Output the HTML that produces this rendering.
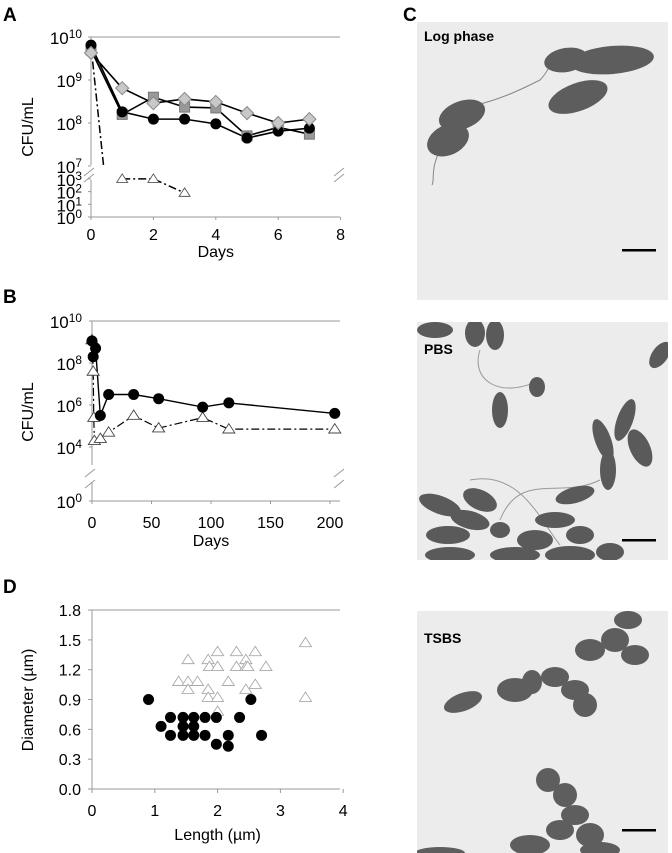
<!DOCTYPE html>
<html><head><meta charset="utf-8"><style>
body{margin:0;background:#fff;width:672px;height:853px;overflow:hidden}
svg{display:block;font-family:"Liberation Sans",Arial,sans-serif}
</style></head><body>
<svg id="fig" width="672" height="853" viewBox="0 0 672 853" xmlns="http://www.w3.org/2000/svg">
<g id="gA"></g>
<g id="gB"></g>
<g id="gD"></g>
<g id="gC">
<text x="403" y="21" font-size="19" font-weight="bold">C</text>
<g>
<rect x="417" y="22" width="251" height="278" fill="#ececec"/>
<path d="M440,150 C430,170 435,180 432,185 M468,107 C500,100 520,90 540,80 C550,70 548,64 556,60" stroke="#888" fill="none" stroke-width="1"/>
<g fill="#5d5d5d">
<ellipse cx="612" cy="60" rx="42" ry="14" transform="rotate(-5 612 60)"/>
<ellipse cx="566" cy="60" rx="22" ry="12" transform="rotate(-10 566 60)"/>
<ellipse cx="578" cy="97" rx="31" ry="14" transform="rotate(-20 578 97)"/>
<ellipse cx="462" cy="115" rx="24" ry="14" transform="rotate(-20 462 115)"/>
<ellipse cx="448" cy="140" rx="22" ry="15" transform="rotate(-25 448 140)"/>
</g>
<text x="424" y="41" font-size="14" font-weight="bold">Log phase</text>
<rect x="622" y="249" width="34" height="2.5" fill="#000"/>
</g>
<g>
<rect x="417" y="322" width="251" height="238" fill="#ececec"/>
<clipPath id="c2"><rect x="417" y="322" width="251" height="238"/></clipPath>
<g clip-path="url(#c2)">
<path d="M480,350 C470,380 500,400 540,380 M600,480 C560,500 520,470 500,520 M470,480 C520,470 540,520 560,545" stroke="#999" fill="none"/>
<g fill="#5a5a5a">
<ellipse cx="435" cy="330" rx="18" ry="8"/><ellipse cx="475" cy="333" rx="10" ry="14"/><ellipse cx="495" cy="335" rx="9" ry="15"/>
<ellipse cx="660" cy="355" rx="8" ry="15" transform="rotate(35 660 355)"/>
<ellipse cx="537" cy="387" rx="8" ry="10"/>
<ellipse cx="500" cy="410" rx="8" ry="18"/>
<ellipse cx="625" cy="420" rx="8" ry="22" transform="rotate(20 625 420)"/>
<ellipse cx="603" cy="440" rx="8" ry="22" transform="rotate(-20 603 440)"/>
<ellipse cx="640" cy="448" rx="10" ry="20" transform="rotate(-25 640 448)"/>
<ellipse cx="608" cy="470" rx="8" ry="20"/>
<ellipse cx="440" cy="505" rx="22" ry="9" transform="rotate(20 440 505)"/>
<ellipse cx="480" cy="500" rx="18" ry="10" transform="rotate(25 480 500)"/>
<ellipse cx="470" cy="520" rx="20" ry="9" transform="rotate(15 470 520)"/>
<ellipse cx="448" cy="535" rx="22" ry="9"/>
<ellipse cx="500" cy="530" rx="10" ry="8"/>
<ellipse cx="575" cy="495" rx="20" ry="8" transform="rotate(-15 575 495)"/>
<ellipse cx="555" cy="520" rx="20" ry="8"/>
<ellipse cx="535" cy="540" rx="18" ry="10"/>
<ellipse cx="580" cy="535" rx="14" ry="9"/>
<ellipse cx="570" cy="555" rx="25" ry="9"/>
<ellipse cx="610" cy="552" rx="14" ry="9"/>
<ellipse cx="515" cy="555" rx="25" ry="8"/>
<ellipse cx="450" cy="555" rx="25" ry="8"/>
</g></g>
<text x="424" y="354" font-size="14" font-weight="bold">PBS</text>
<rect x="622" y="539" width="34" height="2.5" fill="#000"/>
</g>
<g>
<rect x="417" y="611" width="251" height="242" fill="#ececec"/>
<clipPath id="c3"><rect x="417" y="611" width="251" height="242"/></clipPath>
<g clip-path="url(#c3)" fill="#5e5e5e">
<ellipse cx="463" cy="702" rx="20" ry="9" transform="rotate(-20 463 702)"/>
<ellipse cx="515" cy="690" rx="18" ry="12"/><ellipse cx="532" cy="682" rx="10" ry="12"/>
<ellipse cx="555" cy="677" rx="14" ry="10"/><ellipse cx="575" cy="690" rx="14" ry="10"/>
<ellipse cx="585" cy="705" rx="12" ry="12"/>
<ellipse cx="590" cy="650" rx="15" ry="11"/><ellipse cx="615" cy="640" rx="14" ry="12"/>
<ellipse cx="635" cy="655" rx="14" ry="10"/><ellipse cx="628" cy="620" rx="14" ry="9"/>
<ellipse cx="548" cy="780" rx="12" ry="12"/><ellipse cx="565" cy="795" rx="12" ry="12"/>
<ellipse cx="575" cy="815" rx="14" ry="10"/><ellipse cx="560" cy="830" rx="14" ry="10"/>
<ellipse cx="590" cy="835" rx="14" ry="12"/><ellipse cx="530" cy="845" rx="20" ry="10"/>
<ellipse cx="600" cy="850" rx="20" ry="8"/><ellipse cx="440" cy="853" rx="25" ry="6"/>
</g>
<text x="424" y="643" font-size="14" font-weight="bold">TSBS</text>
<rect x="622" y="829" width="34" height="2.5" fill="#000"/>
</g>
</g>
</svg>
<script>
// ---- Panel A data ----
const aDays=[0,1,2,3,4,5,6,7];
const aCircle=[9.81,8.26,8.09,8.09,7.98,7.65,7.81,7.88];
const aSquare=[9.7,8.2,8.6,8.37,8.35,7.7,7.9,7.74];
const aDiamond=[9.63,8.81,8.46,8.56,8.49,8.23,8.0,8.09];
const aTriDays=[1,2,3];
const aTriLog=[3,3,1.9];
const aXTicks=[0,2,4,6,8];
// ---- Panel B data ----
const bCircDays=[0,1,3,7,14,35,56,93,115,204];
const bCircLog=[9.05,8.3,8.7,5.5,6.5,6.5,6.3,5.9,6.1,5.6];
const bTriDays=[0,1,1.5,2,7,14,35,56,93,115,204];
const bTriLog=[9.1,7.6,5.4,4.3,4.4,4.7,5.5,4.9,5.4,4.85,4.85];
const bXTicks=[0,50,100,150,200];
// ---- Panel D data ----
const dCircLen=[0.9,1.1,1.25,1.25,1.45,1.45,1.45,1.62,1.62,1.62,1.8,1.8,1.98,1.98,2.17,2.17,2.35,2.53,2.7];
const dCircDia=[0.9,0.63,0.72,0.54,0.72,0.63,0.54,0.72,0.63,0.54,0.72,0.54,0.72,0.45,0.54,0.43,0.72,0.9,0.54];
const dTriLen=[1.38,1.53,1.53,1.53,1.68,1.85,1.87,1.85,1.85,2.0,2.0,2.0,2.0,2.17,2.3,2.3,2.45,2.45,2.48,2.45,2.6,2.6,2.77,3.4,3.4];
const dTriDia=[1.08,1.08,1.3,1.0,1.08,1.3,1.23,1.0,0.92,1.38,1.23,0.92,0.78,1.08,1.38,1.23,1.3,1.23,1.23,1.0,1.38,1.05,1.23,1.47,0.92];
const dXTicks=[0,1,2,3,4];
const dYTicks=[0,0.3,0.6,0.9,1.2,1.5,1.8];

const NS='http://www.w3.org/2000/svg';
function mk(parent,tag,attrs,txt){const e=document.createElementNS(NS,tag);for(const k in attrs)e.setAttribute(k,attrs[k]);if(txt!==undefined)e.textContent=txt;parent.appendChild(e);return e;}
function circ(g,x,y,r,fill,stroke){return mk(g,'circle',{cx:x,cy:y,r:r,fill:fill,stroke:stroke||'none','stroke-width':1});}
function tri(g,x,y,s,stroke){return mk(g,'polygon',{points:`${x},${y-s} ${x-s*1.1},${y+s*0.7} ${x+s*1.1},${y+s*0.7}`,fill:'#fff',stroke:stroke,'stroke-width':0.9});}
function pw(g,x,y,base,exp,size){const t=mk(g,'text',{x:x,y:y,'font-size':size,'text-anchor':'end'});
  const a=mk(t,'tspan',{},base);const b=mk(t,'tspan',{dy:-6,'font-size':size*0.7},exp);return t;}
function poly(g,pts,attrs){return mk(g,'polyline',Object.assign({points:pts.map(p=>p.join(',')).join(' '),fill:'none'},attrs));}

// ===== Panel A =====
(function(){
const g=document.getElementById('gA');
const x=d=>91+d*31.2;
const yU=l=>37+(10-l)*43;
const yL=l=>217-l*12.7;
mk(g,'text',{x:3,y:21,'font-size':19,'font-weight':'bold'},'A');
mk(g,'line',{x1:91,y1:37,x2:340,y2:37,stroke:'#999'});
mk(g,'line',{x1:91,y1:37,x2:91,y2:165,stroke:'#999'});
mk(g,'line',{x1:91,y1:180,x2:91,y2:217,stroke:'#999'});
mk(g,'line',{x1:91,y1:217,x2:340,y2:217,stroke:'#999'});
mk(g,'path',{d:'M84,176 l10,-8 M84,182 l10,-8 M334,176 l10,-8 M334,182 l10,-8',stroke:'#999',fill:'none'});
[10,9,8,7].forEach(l=>{mk(g,'line',{x1:88,y1:yU(l),x2:91,y2:yU(l),stroke:'#999'});pw(g,82,yU(l)+7,'10',String(l),17);});
[3,2,1,0].forEach(l=>{mk(g,'line',{x1:88,y1:yL(l),x2:91,y2:yL(l),stroke:'#999'});pw(g,82,yL(l)+7,'10',String(l),17);});
aXTicks.forEach(d=>{mk(g,'line',{x1:x(d),y1:217,x2:x(d),y2:220,stroke:'#999'});const t=mk(g,'text',{x:x(d),y:240,'font-size':16,'text-anchor':'middle'},String(d));});
let t=mk(g,'text',{x:x(4),y:257,'font-size':16,'text-anchor':'middle'},'Days');
t=mk(g,'text',{x:0,y:0,'font-size':16,'text-anchor':'middle',transform:'translate(33,127) rotate(-90)'},'CFU/mL');
poly(g,[[x(0),yU(9.8)],[x(0.4),165]],{stroke:'#000','stroke-width':1.5,'stroke-dasharray':'8,3,2,3'});
poly(g,aTriDays.map((d,i)=>[x(d),yL(aTriLog[i])]),{stroke:'#000','stroke-width':1.5,'stroke-dasharray':'8,3,2,3'});
poly(g,aDays.map((d,i)=>[x(d),yU(aSquare[i])]),{stroke:'#000','stroke-width':1.6});
poly(g,aDays.map((d,i)=>[x(d),yU(aDiamond[i])]),{stroke:'#000','stroke-width':1.6});
poly(g,aDays.map((d,i)=>[x(d),yU(aCircle[i])]),{stroke:'#000','stroke-width':1.6});
aDays.forEach((d,i)=>{const e=mk(g,'rect',{x:x(d)-5,y:yU(aSquare[i])-5,width:10,height:10,fill:'#999',stroke:'#777'});});
aDays.forEach((d,i)=>{const e=circ(g,x(d),yU(aCircle[i]),5.5,'#000');});
aDays.forEach((d,i)=>{const cx=x(d),cy=yU(aDiamond[i]);const e=mk(g,'polygon',{points:`${cx},${cy-6.5} ${cx+6.5},${cy} ${cx},${cy+6.5} ${cx-6.5},${cy}`,fill:'#c8c8c8',stroke:'#888'});});
aTriDays.forEach((d,i)=>{const e=tri(g,x(d),yL(aTriLog[i]),5,'#555');});
})();

// ===== Panel B =====
(function(){
const g=document.getElementById('gB');
const x=d=>92+d*1.19;
const y=l=>l>=3.5?321+(10-l)*21:501-l*8;
mk(g,'text',{x:3,y:303,'font-size':19,'font-weight':'bold'},'B');
mk(g,'line',{x1:92,y1:321,x2:340,y2:321,stroke:'#999'});
mk(g,'line',{x1:92,y1:321,x2:92,y2:465,stroke:'#999'});
mk(g,'line',{x1:92,y1:482,x2:92,y2:501,stroke:'#999'});
mk(g,'line',{x1:92,y1:501,x2:340,y2:501,stroke:'#999'});
mk(g,'path',{d:'M85,477 l10,-8 M85,488 l10,-8 M334,477 l10,-8 M334,488 l10,-8',stroke:'#999',fill:'none'});
[10,8,6,4].forEach(l=>{mk(g,'line',{x1:89,y1:y(l),x2:92,y2:y(l),stroke:'#999'});pw(g,82,y(l)+7,'10',String(l),17);});
mk(g,'line',{x1:89,y1:501,x2:92,y2:501,stroke:'#999'});pw(g,82,508,'10','0',17);
bXTicks.forEach(d=>{mk(g,'line',{x1:x(d),y1:501,x2:x(d),y2:504,stroke:'#999'});const t=mk(g,'text',{x:x(d),y:528,'font-size':16,'text-anchor':'middle'},String(d));});
let t=mk(g,'text',{x:x(100),y:546,'font-size':16,'text-anchor':'middle'},'Days');
t=mk(g,'text',{x:0,y:0,'font-size':16,'text-anchor':'middle',transform:'translate(33,412) rotate(-90)'},'CFU/mL');
poly(g,bTriDays.map((d,i)=>[x(d),y(bTriLog[i])]),{stroke:'#000','stroke-width':1.2,'stroke-dasharray':'8,3,2,3'});
poly(g,bCircDays.map((d,i)=>[x(d),y(bCircLog[i])]),{stroke:'#000','stroke-width':1.4});
bTriDays.forEach((d,i)=>{const e=tri(g,x(d),y(bTriLog[i]),5.5,'#444');});
bCircDays.forEach((d,i)=>{const e=circ(g,x(d),y(bCircLog[i]),5.5,'#000');});
})();

// ===== Panel D =====
(function(){
const g=document.getElementById('gD');
const x=v=>92+v*62.8;
const y=v=>789-v*99.4;
mk(g,'text',{x:3,y:593,'font-size':19,'font-weight':'bold'},'D');
mk(g,'line',{x1:92,y1:610,x2:340,y2:610,stroke:'#999'});
mk(g,'line',{x1:92,y1:610,x2:92,y2:789,stroke:'#999'});
mk(g,'line',{x1:92,y1:789,x2:340,y2:789,stroke:'#999'});
dYTicks.forEach(v=>{mk(g,'line',{x1:88,y1:y(v),x2:92,y2:y(v),stroke:'#999'});const t=mk(g,'text',{x:81,y:y(v)+6,'font-size':16,'text-anchor':'end'},v.toFixed(1));});
dXTicks.forEach(v=>{mk(g,'line',{x1:x(v),y1:789,x2:x(v),y2:793,stroke:'#999'});const t=mk(g,'text',{x:x(v),y:816,'font-size':16,'text-anchor':'middle'},String(v));});
let t=mk(g,'text',{x:x(2),y:840,'font-size':16,'text-anchor':'middle'},'Length (µm)');
t=mk(g,'text',{x:0,y:0,'font-size':16,'text-anchor':'middle',transform:'translate(33,700) rotate(-90)'},'Diameter (µm)');
dTriLen.forEach((v,i)=>{const e=tri(g,x(v),y(dTriDia[i]),5.5,'#aaa');});
dCircLen.forEach((v,i)=>{const e=circ(g,x(v),y(dCircDia[i]),5.5,'#000');});
})();
</script>
</body></html>
